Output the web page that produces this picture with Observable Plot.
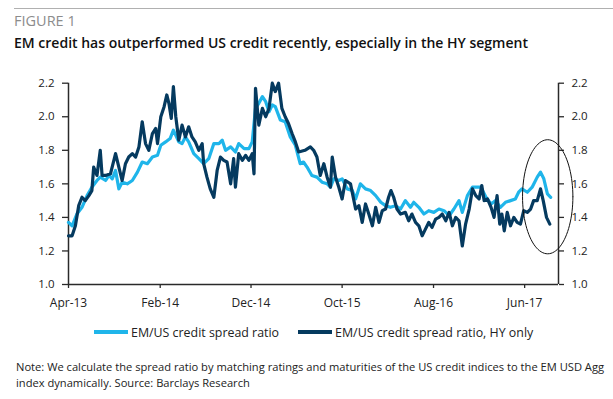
<!DOCTYPE html>
<html>
<head>
<meta charset="utf-8">
<script src="https://cdn.jsdelivr.net/npm/d3@7"></script>
<script src="https://cdn.jsdelivr.net/npm/@observablehq/plot@0.6"></script>
<style>
  html, body { margin: 0; padding: 0; background: #fff; }
  body { width: 613px; height: 399px; position: relative; overflow: hidden; font-family: "Open Sans", sans-serif; }
  .rule { position: absolute; left: 14px; right: 0; top: 8px; height: 1px; background: #b0b0b0; }
  .fig { position: absolute; left: 14px; top: 14px; font-size: 14.5px; line-height: 14.5px; color: #8c8c8c; }
  .title { position: absolute; left: 14px; top: 35.5px; font-size: 14px; line-height: 14px; font-weight: 600; color: #111; white-space: nowrap; }
  #chart { position: absolute; left: 0; top: 70px; }
  .legend { position: absolute; top: 324px; left: 94px; height: 16px; display: flex; align-items: center; font-size: 12.4px; color: #222; white-space: nowrap; }
  .sw { width: 34px; height: 4px; margin-right: 3px; }
  .item { display: flex; align-items: center; }
  .note { position: absolute; left: 16px; top: 359px; font-size: 11.15px; line-height: 15.7px; color: #222; width: 605px; white-space: nowrap; }
</style>
</head>
<body>
<div class="rule"></div>
<div class="fig">FIGURE 1</div>
<div class="title">EM credit has outperformed US credit recently, especially in the HY segment</div>
<div id="chart"></div>
<div class="legend" id="legend"></div>
<div class="note">Note: We calculate the spread ratio by matching ratings and maturities of the US credit indices to the EM USD Agg<br>index dynamically. Source: Barclays Research</div>
<script>
// ---- data ----
const seriesNames = ["EM/US credit spread ratio", "EM/US credit spread ratio, HY only"];
const seriesColors = ["#1fb5ea", "#053a5f"];

const emDates = ["2013-04-01","2013-04-13","2013-04-29","2013-05-16","2013-06-02","2013-06-18","2013-07-05","2013-07-16","2013-08-03","2013-08-14","2013-08-25","2013-09-05","2013-09-16","2013-09-27","2013-10-14","2013-10-31","2013-11-17","2013-12-03","2013-12-20","2014-01-06","2014-01-23","2014-02-03","2014-02-19","2014-03-06","2014-03-17","2014-04-04","2014-04-15","2014-04-26","2014-05-07","2014-05-24","2014-06-10","2014-06-26","2014-07-13","2014-07-30","2014-08-16","2014-08-27","2014-09-07","2014-09-24","2014-10-10","2014-10-21","2014-11-08","2014-11-24","2014-12-05","2014-12-16","2014-12-27","2015-01-08","2015-01-19","2015-01-30","2015-02-10","2015-02-20","2015-03-09","2015-03-25","2015-04-11","2015-04-28","2015-05-14","2015-05-25","2015-06-06","2015-06-22","2015-07-09","2015-07-26","2015-08-12","2015-08-23","2015-09-03","2015-09-20","2015-10-01","2015-10-18","2015-11-04","2015-11-15","2015-12-01","2015-12-18","2016-01-04","2016-01-21","2016-02-07","2016-02-23","2016-03-10","2016-03-27","2016-04-13","2016-04-29","2016-05-16","2016-05-27","2016-06-13","2016-06-30","2016-07-16","2016-08-02","2016-08-19","2016-09-05","2016-09-22","2016-10-08","2016-10-25","2016-11-05","2016-11-22","2016-12-09","2016-12-25","2017-01-06","2017-01-23","2017-02-09","2017-02-24","2017-03-12","2017-03-29","2017-04-15","2017-05-01","2017-05-12","2017-05-23","2017-06-10","2017-06-26","2017-07-13","2017-07-24","2017-08-04","2017-08-16","2017-08-27"];
const emValues = [1.37,1.35,1.42,1.46,1.53,1.58,1.62,1.64,1.62,1.65,1.63,1.68,1.57,1.61,1.60,1.62,1.67,1.73,1.72,1.76,1.77,1.83,1.85,1.87,1.92,1.85,1.84,1.88,1.85,1.78,1.75,1.72,1.75,1.84,1.84,1.86,1.80,1.82,1.79,1.84,1.81,1.81,1.85,2.05,2.08,2.12,2.09,2.03,2.07,2.06,1.98,1.97,1.88,1.83,1.72,1.73,1.70,1.65,1.64,1.61,1.60,1.58,1.63,1.62,1.63,1.57,1.56,1.51,1.60,1.57,1.56,1.53,1.49,1.47,1.46,1.47,1.45,1.50,1.46,1.49,1.46,1.42,1.44,1.43,1.45,1.44,1.41,1.45,1.50,1.43,1.53,1.58,1.58,1.58,1.52,1.48,1.50,1.46,1.49,1.50,1.51,1.55,1.57,1.55,1.58,1.64,1.67,1.63,1.54,1.52];

const hyDates = ["2013-04-01","2013-04-13","2013-04-24","2013-05-05","2013-05-16","2013-05-27","2013-06-08","2013-06-18","2013-06-24","2013-07-05","2013-07-16","2013-07-22","2013-08-03","2013-08-19","2013-09-05","2013-09-16","2013-09-27","2013-10-08","2013-10-19","2013-10-31","2013-11-11","2013-11-22","2013-12-03","2013-12-14","2013-12-25","2014-01-06","2014-01-17","2014-01-23","2014-02-03","2014-02-14","2014-02-23","2014-03-02","2014-03-10","2014-03-17","2014-03-25","2014-04-04","2014-04-15","2014-04-26","2014-05-07","2014-05-18","2014-05-29","2014-06-10","2014-06-21","2014-06-26","2014-07-07","2014-07-18","2014-07-30","2014-08-10","2014-08-21","2014-09-01","2014-09-12","2014-09-24","2014-10-04","2014-10-10","2014-10-21","2014-11-02","2014-11-13","2014-11-24","2014-12-05","2014-12-11","2014-12-16","2014-12-27","2015-01-08","2015-01-19","2015-01-30","2015-02-10","2015-02-20","2015-03-03","2015-03-14","2015-03-25","2015-04-05","2015-04-17","2015-04-28","2015-05-09","2015-05-30","2015-06-17","2015-06-28","2015-07-09","2015-07-20","2015-08-01","2015-08-12","2015-08-23","2015-08-29","2015-09-09","2015-09-20","2015-10-01","2015-10-12","2015-10-29","2015-11-15","2015-11-26","2015-12-07","2015-12-18","2015-12-29","2016-01-10","2016-01-21","2016-02-01","2016-02-12","2016-02-23","2016-03-04","2016-03-12","2016-03-21","2016-04-01","2016-04-13","2016-04-29","2016-05-10","2016-05-21","2016-06-02","2016-06-13","2016-06-24","2016-07-05","2016-07-16","2016-07-27","2016-08-08","2016-08-19","2016-08-30","2016-09-11","2016-09-22","2016-10-03","2016-10-14","2016-10-25","2016-11-05","2016-11-16","2016-11-28","2016-12-09","2016-12-20","2016-12-31","2017-01-09","2017-01-17","2017-01-28","2017-02-09","2017-02-19","2017-03-01","2017-03-10","2017-03-17","2017-03-25","2017-04-04","2017-04-15","2017-04-26","2017-05-07","2017-05-18","2017-05-29","2017-06-10","2017-06-21","2017-07-01","2017-07-13","2017-07-24","2017-08-02","2017-08-13","2017-08-24"];
const hyValues = [1.29,1.29,1.35,1.47,1.52,1.50,1.53,1.56,1.70,1.65,1.80,1.65,1.65,1.66,1.78,1.70,1.62,1.72,1.76,1.78,1.76,1.82,1.97,1.84,1.80,1.90,1.93,1.84,2.00,2.06,2.13,2.08,1.99,2.18,2.00,1.86,1.95,1.88,1.94,1.88,1.85,1.80,1.84,1.72,1.64,1.57,1.52,1.68,1.76,1.74,1.73,1.60,1.75,1.58,1.78,1.74,1.77,1.74,1.78,1.66,2.17,1.95,2.05,2.00,2.05,2.20,2.15,2.20,2.05,2.00,1.96,1.90,1.85,1.79,1.80,1.82,1.80,1.76,1.65,1.72,1.64,1.58,1.76,1.64,1.58,1.51,1.62,1.60,1.45,1.47,1.37,1.48,1.42,1.35,1.46,1.37,1.44,1.45,1.52,1.56,1.52,1.45,1.42,1.43,1.38,1.42,1.37,1.35,1.29,1.33,1.37,1.34,1.39,1.40,1.42,1.38,1.43,1.35,1.40,1.38,1.23,1.36,1.45,1.57,1.53,1.51,1.59,1.50,1.51,1.46,1.40,1.53,1.36,1.42,1.32,1.43,1.35,1.40,1.37,1.36,1.44,1.43,1.45,1.50,1.50,1.57,1.50,1.40,1.36];

const xDomain = ["2013-04-01", "2017-09-22"];
const xTickDates = ["2013-04-01", "2014-02-01", "2014-12-01", "2015-10-01", "2016-08-01", "2017-06-01"];
const yDomain = [1.0, 2.2];
const yTicks = [1.0, 1.2, 1.4, 1.6, 1.8, 2.0, 2.2];

// annotation ellipse around the latest values
const ellipseCenter = ["2017-08-17", 1.523];
const ellipseRadiusDays = 84;
const ellipseRadiusValue = 0.34;

// ---- build ----
const parse = s => new Date(s + "T00:00:00Z");
const em = emDates.map((d, i) => ({date: parse(d), value: emValues[i]}));
const hy = hyDates.map((d, i) => ({date: parse(d), value: hyValues[i]}));

const ell = d3.range(0, 97).map(k => {
  const t = (k / 96) * 2 * Math.PI;
  return {
    date: new Date(parse(ellipseCenter[0]).getTime() + Math.cos(t) * ellipseRadiusDays * 864e5),
    value: ellipseCenter[1] + Math.sin(t) * ellipseRadiusValue
  };
});

const axisColor = "#2a2a2a";
const chart = Plot.plot({
  width: 613,
  height: 245,
  marginTop: 12.7,
  marginBottom: 31,
  marginLeft: 68,
  marginRight: 55,
  style: {fontFamily: "'Open Sans', sans-serif", fontSize: "11.5px", color: "#222", background: "transparent", overflow: "visible"},
  x: {type: "utc", domain: xDomain.map(parse)},
  y: {domain: yDomain},
  marks: [
    Plot.axisX({ticks: xTickDates.map(parse), tickFormat: d3.utcFormat("%b-%y"), tickSize: 4, tickPadding: 9.5, label: null, stroke: axisColor, strokeWidth: 1.3, fill: "#222", fontSize: 12}),
    Plot.axisY({anchor: "left", ticks: yTicks, tickFormat: d3.format(".1f"), tickSize: 6, tickPadding: 8, label: null, stroke: axisColor, strokeWidth: 1.3, fill: "#222"}),
    Plot.axisY({anchor: "right", ticks: yTicks, tickFormat: d3.format(".1f"), tickSize: 5, tickPadding: 8, label: null, stroke: axisColor, strokeWidth: 1.3, fill: "#222"}),
    Plot.ruleX([xDomain[0], xDomain[1]].map(parse), {stroke: axisColor, strokeWidth: 1.5}),
    Plot.ruleY([yDomain[0]], {stroke: axisColor, strokeWidth: 1.5}),
    Plot.line(em, {x: "date", y: "value", stroke: seriesColors[0], strokeWidth: 3.2, strokeLinejoin: "round", strokeLinecap: "round"}),
    Plot.line(hy, {x: "date", y: "value", stroke: seriesColors[1], strokeWidth: 3.2, strokeLinejoin: "round", strokeLinecap: "round"}),
    Plot.line(ell, {x: "date", y: "value", stroke: "#111", strokeWidth: 1, curve: "linear"})
  ]
});
document.getElementById("chart").appendChild(chart);

const legend = document.getElementById("legend");
seriesNames.forEach((name, i) => {
  const item = document.createElement("div");
  item.className = "item";
  item.style.marginRight = i === 0 ? "19px" : "0";
  const sw = document.createElement("div");
  sw.className = "sw";
  sw.style.background = seriesColors[i];
  const tx = document.createElement("span");
  tx.textContent = name;
  item.appendChild(sw);
  item.appendChild(tx);
  legend.appendChild(item);
});
</script>
</body>
</html>
